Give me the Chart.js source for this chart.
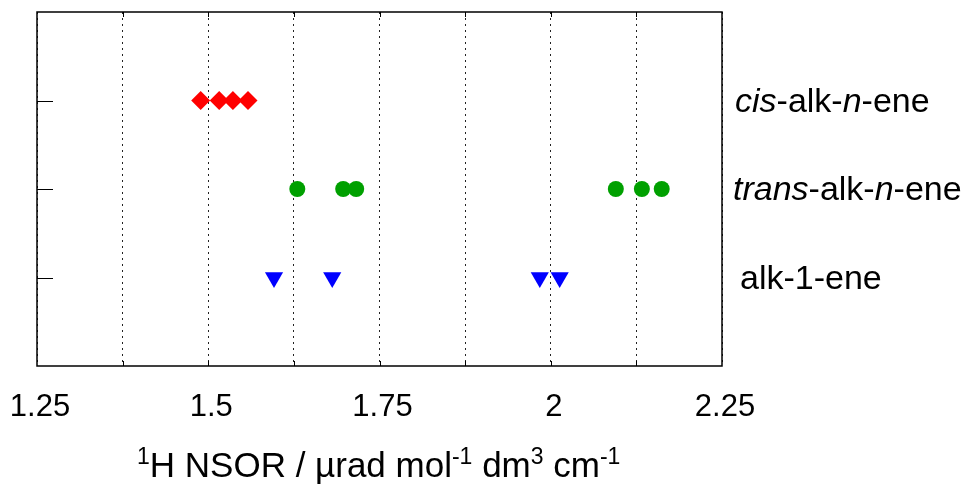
<!DOCTYPE html>
<html>
<head>
<meta charset="utf-8">
<script src="https://cdn.jsdelivr.net/npm/chart.js@4"></script>
<style>
  html, body { margin: 0; padding: 0; background: #fff; }
  #wrap { width: 969px; height: 486px; }
</style>
</head>
<body>
<div id="wrap"><canvas id="nsorChart"></canvas></div>
<script>
// category rows (y value -> name)
const categories = ['alk-1-ene', 'trans-alk-n-ene', 'cis-alk-n-ene'];
const categoryY = [1, 2, 3];

// 1H NSOR values
const alk1eneValues = [1.596, 1.681, 1.984, 2.013];
const transValues = [1.630, 1.697, 1.716, 2.095, 2.133, 2.162];
const cisValues = [1.489, 1.516, 1.536, 1.558];

const xMin = 1.25;
const xMax = 2.25;
const xStep = 0.125;

const toPoints = (values, y) => values.map(v => ({ x: v, y: y }));

const FONT = '"Liberation Sans", Arial, sans-serif';

// right-side labels, pieces are [text, italic]
const labelParts = {
  'cis-alk-n-ene': [['cis', true], ['-alk-', false], ['n', true], ['-ene', false]],
  'trans-alk-n-ene': [['trans', true], ['-alk-', false], ['n', true], ['-ene', false]],
  'alk-1-ene': [['alk-1-ene', false]]
};
const labelX = { 'cis-alk-n-ene': 735, 'trans-alk-n-ene': 733, 'alk-1-ene': 740 };

const framePlugin = {
  id: 'frame',
  afterDraw(chart) {
    const ctx = chart.ctx;
    const a = chart.chartArea;
    const xs = chart.scales.x;
    const ys = chart.scales.y;
    ctx.save();
    ctx.strokeStyle = '#000';
    ctx.lineWidth = 1.5;
    ctx.strokeRect(a.left, a.top, a.right - a.left, a.bottom - a.top);

    // small inward ticks on top and bottom
    ctx.lineWidth = 1;
    for (let v = xMin + xStep; v < xMax - 1e-9; v += xStep) {
      const px = Math.round(xs.getPixelForValue(v)) + 0.5;
      ctx.beginPath();
      ctx.moveTo(px, a.top); ctx.lineTo(px, a.top + 5);
      ctx.moveTo(px, a.bottom); ctx.lineTo(px, a.bottom - 5);
      ctx.stroke();
    }
    // left ticks at each category
    categoryY.forEach(y => {
      const py = Math.round(ys.getPixelForValue(y)) + 0.5;
      ctx.beginPath();
      ctx.moveTo(a.left, py); ctx.lineTo(a.left + 16, py);
      ctx.stroke();
    });

    // category names right of the plot
    ctx.fillStyle = '#000';
    ctx.textBaseline = 'middle';
    ctx.textAlign = 'left';
    categories.forEach((name, i) => {
      let x = labelX[name];
      const py = ys.getPixelForValue(categoryY[i]) + 2;
      labelParts[name].forEach(([txt, it]) => {
        ctx.font = (it ? 'italic ' : '') + '34px ' + FONT;
        ctx.fillText(txt, x, py);
        x += ctx.measureText(txt).width;
      });
    });

    // axis title with superscripts
    const parts = [
      ['1', true], ['H NSOR / \u00b5rad mol', false], ['-1', true], [' dm', false],
      ['3', true], [' cm', false], ['-1', true]
    ];
    ctx.textBaseline = 'alphabetic';
    let tx = 137;
    const base = 477;
    parts.forEach(([txt, sup]) => {
      ctx.font = (sup ? '23px ' : '35px ') + FONT;
      ctx.fillText(txt, tx, sup ? base - 13 : base);
      tx += ctx.measureText(txt).width;
    });
    ctx.restore();
  }
};

new Chart(document.getElementById('nsorChart'), {
  type: 'scatter',
  data: {
    datasets: [
      {
        label: 'cis-alk-n-ene',
        data: toPoints(cisValues, 3),
        pointStyle: 'rectRot',
        pointRadius: 9.5,
        backgroundColor: '#ff0000',
        borderColor: '#ff0000',
        borderWidth: 0
      },
      {
        label: 'trans-alk-n-ene',
        data: toPoints(transValues, 2),
        pointStyle: 'circle',
        pointRadius: 8,
        backgroundColor: '#00a000',
        borderColor: '#00a000',
        borderWidth: 0
      },
      {
        label: 'alk-1-ene',
        data: toPoints(alk1eneValues, 1),
        pointStyle: 'triangle',
        pointRotation: 180,
        pointRadius: 10.5,
        backgroundColor: '#0000ff',
        borderColor: '#0000ff',
        borderWidth: 0
      }
    ]
  },
  options: {
    responsive: true,
    maintainAspectRatio: false,
    animation: false,
    layout: { padding: { left: 37, top: 12, right: 247, bottom: 0 } },
    plugins: {
      legend: { display: false },
      tooltip: { enabled: false }
    },
    scales: {
      x: {
        type: 'linear',
        min: xMin,
        max: xMax,
        afterFit: (s) => { s.height = 120; s.paddingLeft = 0; s.paddingRight = 0; },
        border: { display: false, dash: [2, 4] },
        grid: {
          color: '#222',
          lineWidth: 1,
          drawTicks: false
        },
        ticks: {
          stepSize: xStep,
          autoSkip: false,
          maxRotation: 0,
          padding: 23,
          labelOffset: 3,
          color: '#000',
          font: { family: FONT, size: 31 },
          callback: (v) => {
            const r = Math.round(v * 1000) / 1000;
            return Math.abs(r * 4 - Math.round(r * 4)) < 1e-6 ? String(r) : '';
          }
        }
      },
      y: {
        type: 'linear',
        min: 0,
        max: 4,
        display: false
      }
    }
  },
  plugins: [framePlugin]
});
</script>
</body>
</html>
